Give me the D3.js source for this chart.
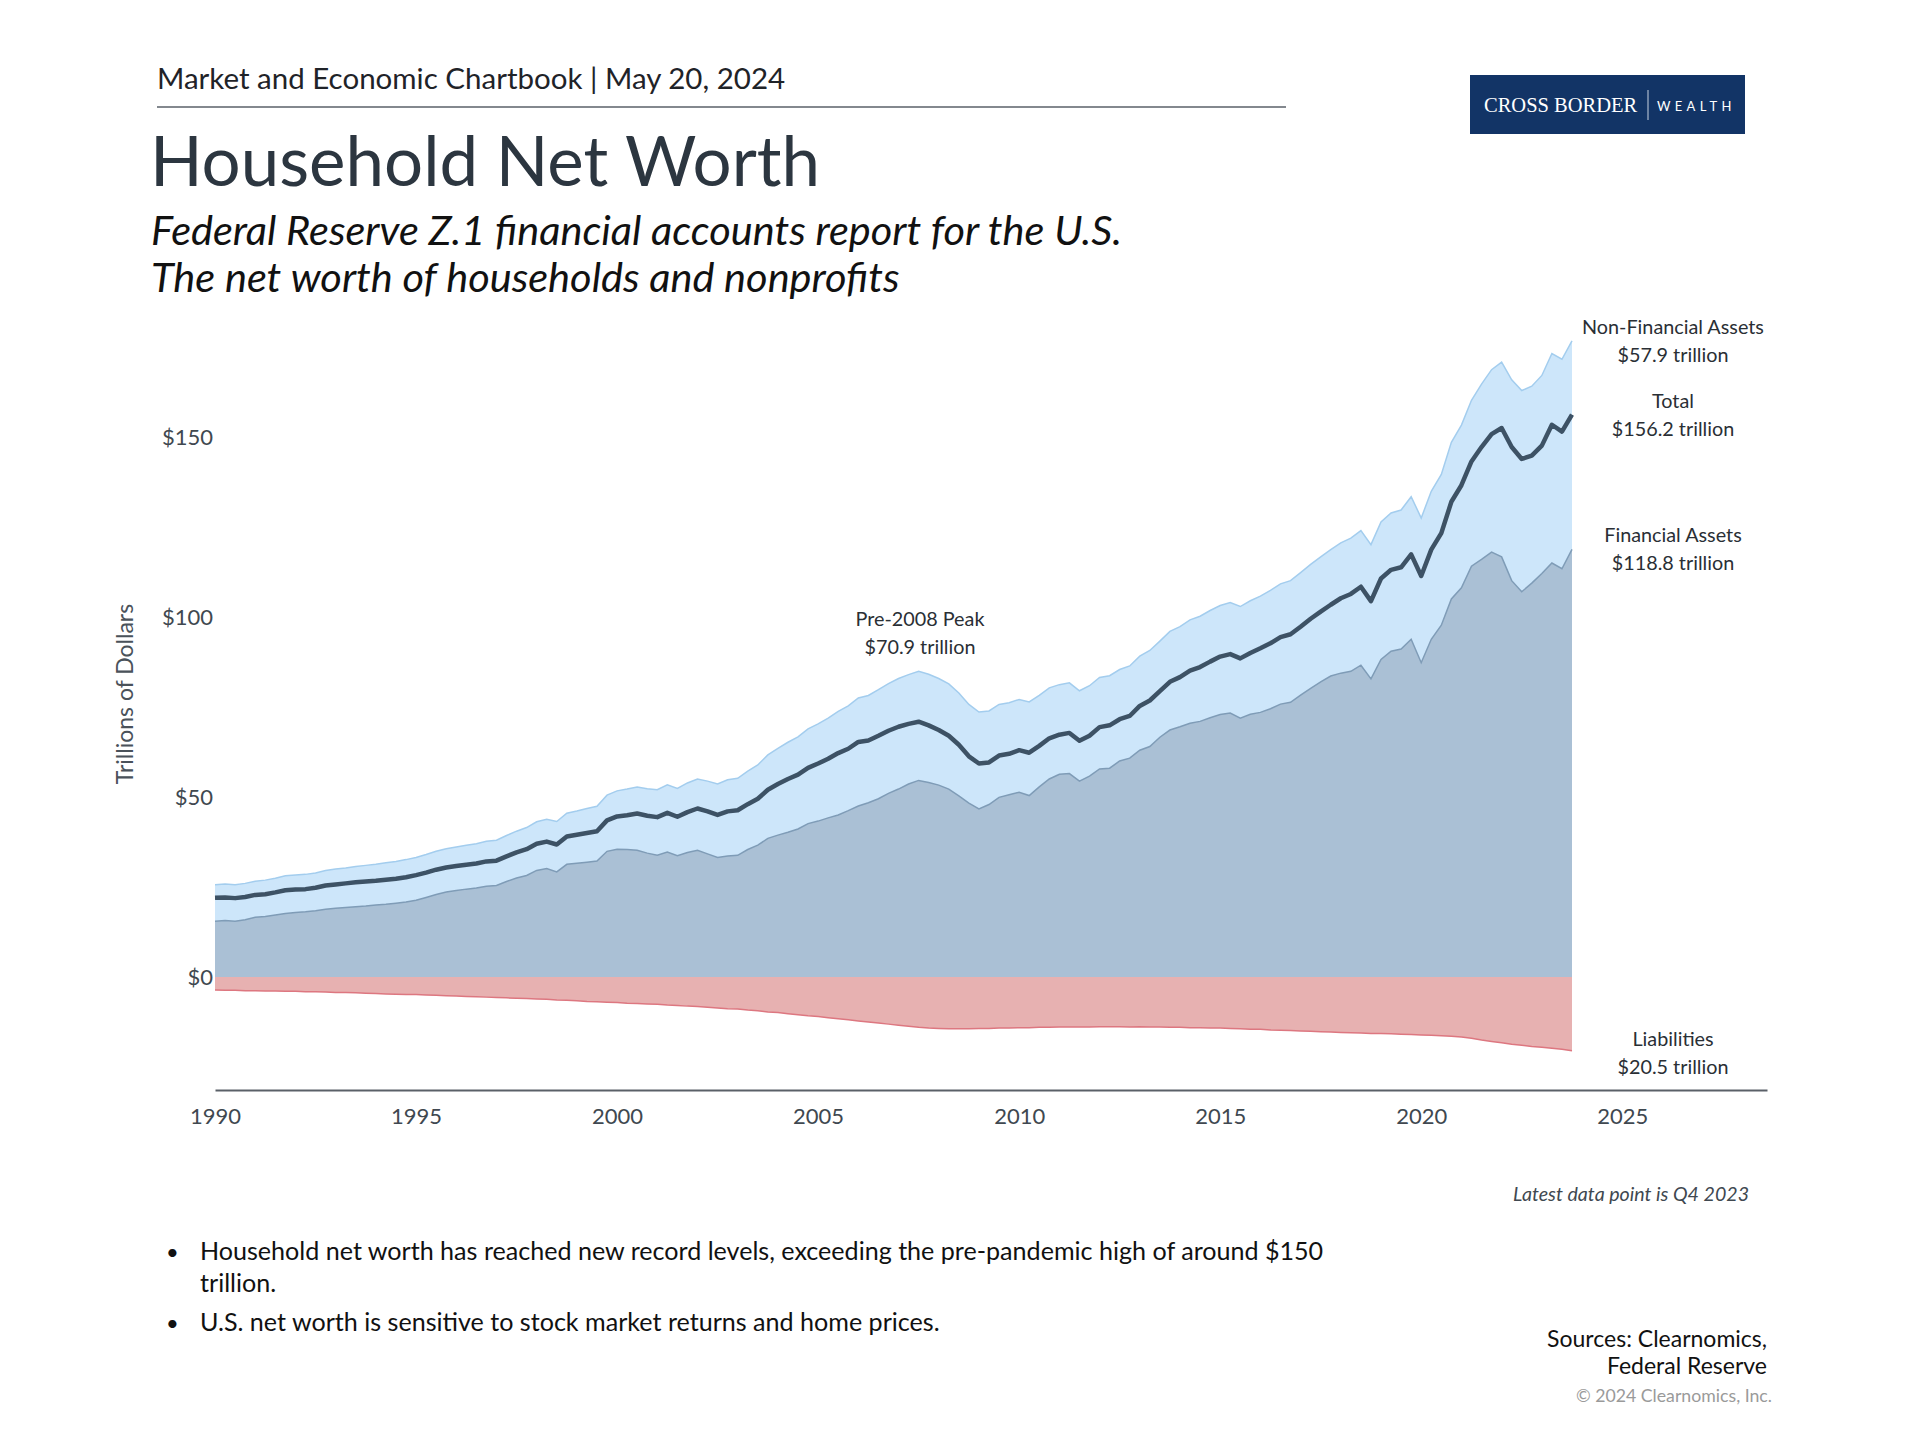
<!DOCTYPE html>
<html>
<head>
<meta charset="utf-8">
<script src="https://cdn.jsdelivr.net/npm/d3@7"></script>
<style>
  body { margin: 0; background: #fff; }
</style>
</head>
<body>
<script>
// quarterly data, Q1 1990 - Q4 2023, trillions of dollars
const years = [1990, 1991, 1992, 1993, 1994, 1995, 1996, 1997, 1998, 1999,
  2000, 2001, 2002, 2003, 2004, 2005, 2006, 2007, 2008, 2009,
  2010, 2011, 2012, 2013, 2014, 2015, 2016, 2017, 2018, 2019,
  2020, 2021, 2022, 2023];
const quarterNames = ['Q1', 'Q2', 'Q3', 'Q4'];

const financialAssets = [
  15.5, 15.7, 15.5, 15.9, 16.6, 16.8, 17.2, 17.6, 17.9, 18.1, 18.4, 18.8,
  19.1, 19.3, 19.5, 19.7, 20.0, 20.2, 20.5, 20.8, 21.3, 22.1, 22.9, 23.6,
  24.0, 24.4, 24.7, 25.2, 25.4, 26.5, 27.5, 28.2, 29.6, 30.1, 29.2, 31.3,
  31.6, 31.9, 32.2, 34.9, 35.5, 35.4, 35.2, 34.4, 33.8, 34.7, 33.7, 34.6,
  35.2, 34.2, 33.2, 33.6, 33.8, 35.4, 36.6, 38.5, 39.4, 40.2, 41.1, 42.6,
  43.3, 44.2, 45.0, 46.2, 47.5, 48.4, 49.5, 51.0, 52.2, 53.6, 54.6, 54.0,
  53.3, 52.2, 50.3, 48.3, 46.7, 47.9, 49.9, 50.6, 51.3, 50.4, 52.8, 55.0,
  56.3, 56.5, 54.4, 55.8, 57.8, 58.0, 60.0, 60.8, 63.0, 64.0, 66.6, 68.6,
  69.5, 70.5, 71.0, 72.0, 72.9, 73.3, 71.9, 73.0, 73.5, 74.5, 75.8, 76.3,
  78.3, 80.2, 82.0, 83.6, 84.4, 84.9, 86.6, 82.8, 88.2, 90.5, 91.1, 93.8,
  87.3, 93.8, 97.7, 105.0, 108.1, 114.1, 116.0, 118.0, 116.7, 110.1, 107.0, 109.4,
  112.1, 115.0, 113.4, 118.8
];
const nonFinancialAssets = [
  10.1, 10.1, 10.1, 10.1, 10.0, 10.1, 10.2, 10.5, 10.4, 10.4, 10.5, 10.8,
  10.9, 11.0, 11.2, 11.3, 11.3, 11.5, 11.6, 11.8, 11.9, 11.9, 12.0, 12.0,
  12.1, 12.2, 12.3, 12.5, 12.6, 12.8, 13.0, 13.3, 13.5, 13.7, 14.0, 14.2,
  14.5, 14.9, 15.2, 15.6, 16.2, 16.8, 17.6, 17.9, 18.2, 18.7, 18.7, 19.3,
  19.8, 20.2, 20.4, 21.2, 21.4, 21.8, 22.3, 23.2, 24.1, 25.0, 25.6, 26.3,
  27.0, 27.7, 28.8, 29.1, 30.0, 29.8, 30.3, 30.5, 30.7, 30.4, 30.3, 30.1,
  29.6, 29.2, 28.6, 27.4, 26.9, 26.0, 25.8, 25.6, 25.8, 26.0, 25.4, 25.3,
  24.9, 25.2, 25.1, 25.1, 25.4, 25.7, 25.4, 25.6, 26.1, 26.7, 26.7, 27.4,
  27.8, 28.7, 29.2, 29.8, 30.3, 30.7, 31.0, 31.5, 32.3, 32.9, 33.4, 33.8,
  34.0, 34.4, 34.7, 35.1, 36.2, 37.0, 37.4, 37.3, 38.2, 38.4, 38.6, 39.6,
  40.2, 41.1, 41.9, 43.5, 45.2, 46.1, 48.7, 50.7, 54.1, 55.8, 55.9, 54.7,
  55.0, 58.2, 58.2, 57.9
];
const liabilities = [
  3.6, 3.7, 3.7, 3.8, 3.8, 3.9, 3.9, 4.0, 4.0, 4.1, 4.1, 4.2,
  4.3, 4.3, 4.4, 4.5, 4.6, 4.7, 4.8, 4.9, 4.9, 5.0, 5.1, 5.2,
  5.3, 5.4, 5.5, 5.6, 5.7, 5.8, 5.9, 6.0, 6.1, 6.2, 6.4, 6.5,
  6.6, 6.8, 6.9, 7.0, 7.1, 7.3, 7.4, 7.5, 7.6, 7.8, 7.9, 8.1,
  8.2, 8.4, 8.6, 8.8, 8.9, 9.2, 9.4, 9.7, 9.9, 10.2, 10.5, 10.8,
  11.0, 11.3, 11.6, 11.9, 12.2, 12.5, 12.8, 13.1, 13.4, 13.7, 14.0, 14.2,
  14.3, 14.4, 14.4, 14.4, 14.3, 14.3, 14.2, 14.2, 14.1, 14.1, 14.0, 14.0,
  13.9, 13.9, 13.9, 13.9, 13.8, 13.8, 13.8, 13.9, 13.8, 13.9, 13.9, 14.0,
  14.0, 14.1, 14.1, 14.2, 14.2, 14.3, 14.4, 14.5, 14.5, 14.7, 14.8, 14.9,
  15.0, 15.1, 15.2, 15.3, 15.4, 15.5, 15.6, 15.7, 15.7, 15.8, 15.9, 16.0,
  16.1, 16.2, 16.3, 16.5, 16.7, 17.0, 17.5, 17.9, 18.3, 18.7, 19.0, 19.3,
  19.5, 19.8, 20.1, 20.5
];

const xTickLabels = [1990, 1995, 2000, 2005, 2010, 2015, 2020, 2025];
const yTickLabels = [0, 50, 100, 150];

// build quarterly rows
const quarters = years.flatMap((y) => quarterNames.map((q) => ({ year: y, q: q })));
const data = quarters.map((d, i) => {
  const fin = financialAssets[i];
  const nonFin = nonFinancialAssets[i];
  const liab = liabilities[i];
  return {
    t: d.year + quarterNames.indexOf(d.q) / 4,
    fin: fin,
    top: fin + nonFin,
    liab: liab,
    net: fin + nonFin - liab,
  };
});

// canvas
const width = 1920;
const height = 1440;
const font = 'Lato, "Open Sans", sans-serif';
const svg = d3.select('body').append('svg').attr('width', width).attr('height', height)
  .style('font-family', font);

// header
svg.append('text').text('Market and Economic Chartbook | May 20, 2024')
  .attr('x', 157).attr('y', 89).attr('font-size', 29.5).attr('fill', '#1f2328');
svg.append('line').attr('x1', 157).attr('x2', 1286).attr('y1', 107).attr('y2', 107)
  .attr('stroke', '#5a6068').attr('stroke-width', 1.5);
svg.append('text').text('Household Net Worth')
  .attr('x', 150).attr('y', 186).attr('font-size', 69).attr('fill', '#2c3640');
svg.append('text').text('Federal Reserve Z.1 financial accounts report for the U.S.')
  .attr('x', 151).attr('y', 245).attr('font-size', 41.5).attr('font-style', 'italic').attr('fill', '#111');
svg.append('text').text('The net worth of households and nonprofits')
  .attr('x', 151).attr('y', 292).attr('font-size', 41.5).attr('font-style', 'italic').attr('fill', '#111');

// logo
const logo = svg.append('g');
logo.append('rect').attr('x', 1470).attr('y', 75).attr('width', 275).attr('height', 59).attr('fill', '#123466');
logo.append('text').text('CROSS BORDER').attr('x', 1484).attr('y', 112)
  .style('font-family', '"Liberation Serif", "DejaVu Serif", serif').attr('font-size', 20.5).attr('fill', '#fff');
logo.append('line').attr('x1', 1648).attr('x2', 1648).attr('y1', 90).attr('y2', 120)
  .attr('stroke', '#c8d2e0').attr('stroke-width', 1);
logo.append('text').text('WEALTH').attr('x', 1657).attr('y', 111)
  .attr('font-size', 13).attr('letter-spacing', 4.3).attr('fill', '#fff');

// scales
const margin = { left: 215, right: 1767, top: 329, bottom: 1090 };
const x = d3.scaleLinear().domain([1990, 2028.6]).range([margin.left, margin.right]);
const y = d3.scaleLinear().domain([-31.4, 180]).range([margin.bottom, margin.top]);

// areas
const nonFinArea = d3.area().x((d) => x(d.t)).y0((d) => y(d.fin)).y1((d) => y(d.top));
const finArea = d3.area().x((d) => x(d.t)).y0(y(0)).y1((d) => y(d.fin));
const liabArea = d3.area().x((d) => x(d.t)).y0(y(0)).y1((d) => y(-d.liab));

svg.append('path').datum(data).attr('d', nonFinArea).attr('fill', '#cde6fa');
svg.append('path').datum(data).attr('d', d3.line().x((d) => x(d.t)).y((d) => y(d.top)))
  .attr('fill', 'none').attr('stroke', '#a3cdee').attr('stroke-width', 1.5);

svg.append('path').datum(data).attr('d', finArea).attr('fill', '#aac0d5');
svg.append('path').datum(data).attr('d', d3.line().x((d) => x(d.t)).y((d) => y(d.fin)))
  .attr('fill', 'none').attr('stroke', '#7f9cb7').attr('stroke-width', 1.5);

svg.append('path').datum(data).attr('d', liabArea).attr('fill', '#e7b1b1');
svg.append('path').datum(data).attr('d', d3.line().x((d) => x(d.t)).y((d) => y(-d.liab)))
  .attr('fill', 'none').attr('stroke', '#dd7780').attr('stroke-width', 1.5);

// net worth line
svg.append('path').datum(data).attr('d', d3.line().x((d) => x(d.t)).y((d) => y(d.net)))
  .attr('fill', 'none').attr('stroke', '#3d5265').attr('stroke-width', 4.5)
  .attr('stroke-linejoin', 'round');

// axes
const xAxis = (g) => g
  .attr('transform', `translate(0, ${margin.bottom})`)
  .call(d3.axisBottom(x).tickValues(xTickLabels).tickFormat((d) => d).tickSize(0).tickPadding(18))
  .call((g) => g.select('.domain').attr('stroke', '#5a6068').attr('stroke-width', 2))
  .call((g) => g.selectAll('text').attr('font-size', 22).attr('fill', '#404850').style('font-family', font));

const yAxis = (g) => g
  .attr('transform', `translate(${margin.left - 2}, 0)`)
  .call(d3.axisLeft(y).tickValues(yTickLabels).tickFormat((d) => `$${d}`).tickSize(0).tickPadding(0))
  .call((g) => g.select('.domain').remove())
  .call((g) => g.selectAll('text').attr('font-size', 22).attr('fill', '#404850').style('font-family', font));

svg.append('g').call(xAxis);
svg.append('g').call(yAxis);

svg.append('text').text('Trillions of Dollars')
  .attr('transform', 'translate(133, 694) rotate(-90)')
  .attr('text-anchor', 'middle').attr('font-size', 23).attr('fill', '#4a525a');

// annotations
const note = (lines, cx, y0) => {
  lines.forEach((t, i) => {
    svg.append('text').text(t).attr('x', cx).attr('y', y0 + i * 28)
      .attr('text-anchor', 'middle').attr('font-size', 19.8).attr('fill', '#2a2f35');
  });
};
note(['Pre-2008 Peak', '$70.9 trillion'], 920, 626);
note(['Non-Financial Assets', '$57.9 trillion'], 1673, 334);
note(['Total', '$156.2 trillion'], 1673, 408);
note(['Financial Assets', '$118.8 trillion'], 1673, 542);
note(['Liabilities', '$20.5 trillion'], 1673, 1046);

svg.append('text').text('Latest data point is Q4 2023')
  .attr('x', 1749).attr('y', 1201).attr('text-anchor', 'end')
  .attr('font-size', 19.6).attr('font-style', 'italic').attr('fill', '#404850');

// bullets
const bullets = [
  ['Household net worth has reached new record levels, exceeding the pre-pandemic high of around $150', 'trillion.'],
  ['U.S. net worth is sensitive to stock market returns and home prices.'],
];
let by = 1260;
bullets.forEach((lines) => {
  svg.append('text').text('•').attr('x', 166).attr('y', by).attr('font-size', 22).attr('fill', '#111');
  lines.forEach((t) => {
    svg.append('text').text(t).attr('x', 200).attr('y', by).attr('font-size', 25.1).attr('fill', '#111');
    by += 32;
  });
  by += 7;
});

// footer
svg.append('text').text('Sources: Clearnomics,').attr('x', 1767).attr('y', 1347)
  .attr('text-anchor', 'end').attr('font-size', 23).attr('fill', '#111');
svg.append('text').text('Federal Reserve').attr('x', 1767).attr('y', 1374)
  .attr('text-anchor', 'end').attr('font-size', 23).attr('fill', '#111');
svg.append('text').text('© 2024 Clearnomics, Inc.').attr('x', 1772).attr('y', 1402)
  .attr('text-anchor', 'end').attr('font-size', 17.7).attr('fill', '#9a9a9a');
</script>
</body>
</html>
